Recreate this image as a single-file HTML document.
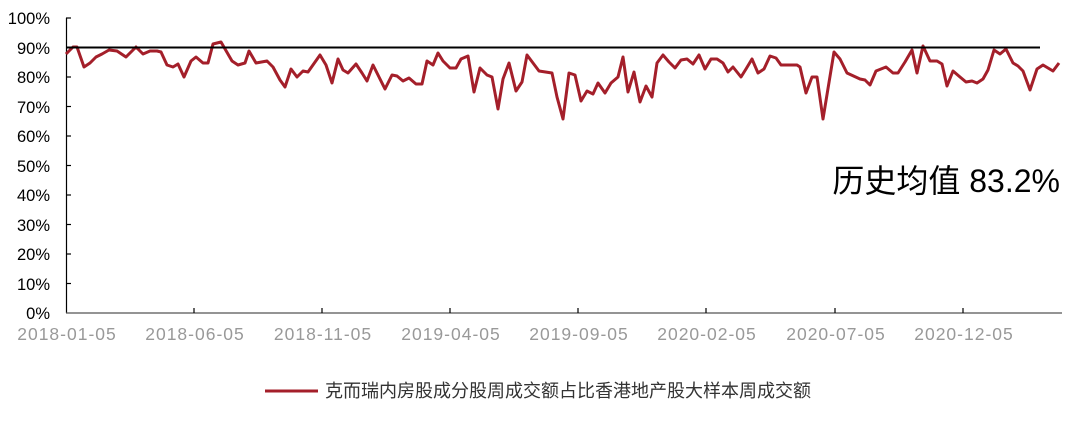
<!DOCTYPE html>
<html><head><meta charset="utf-8"><style>
body{margin:0;background:#fff;width:1080px;height:419px;overflow:hidden}
svg text{font-family:"Liberation Sans","Noto Sans CJK SC",sans-serif}
</style></head><body>
<svg width="1080" height="419" xmlns="http://www.w3.org/2000/svg">
<g font-size="16.5" fill="#000" text-anchor="end">
<text x="50" y="24">100%</text><text x="50" y="54">90%</text><text x="50" y="83">80%</text><text x="50" y="113">70%</text><text x="50" y="142">60%</text><text x="50" y="172">50%</text><text x="50" y="201">40%</text><text x="50" y="231">30%</text><text x="50" y="260">20%</text><text x="50" y="290">10%</text><text x="50" y="319">0%</text>
</g>
<g stroke="#000" stroke-width="1.2">
<line x1="66.5" y1="18" x2="66.5" y2="313"/>
<line x1="66" y1="313" x2="1062" y2="313" stroke="#555"/>
<line x1="66" y1="18" x2="71" y2="18"/><line x1="66" y1="47.5" x2="71" y2="47.5"/><line x1="66" y1="77" x2="71" y2="77"/><line x1="66" y1="106.5" x2="71" y2="106.5"/><line x1="66" y1="136" x2="71" y2="136"/><line x1="66" y1="165.5" x2="71" y2="165.5"/><line x1="66" y1="195" x2="71" y2="195"/><line x1="66" y1="224.5" x2="71" y2="224.5"/><line x1="66" y1="254" x2="71" y2="254"/><line x1="66" y1="283.5" x2="71" y2="283.5"/>
<line x1="194" y1="308" x2="194" y2="313"/><line x1="322" y1="308" x2="322" y2="313"/><line x1="450" y1="308" x2="450" y2="313"/><line x1="578" y1="308" x2="578" y2="313"/><line x1="706" y1="308" x2="706" y2="313"/><line x1="835" y1="308" x2="835" y2="313"/><line x1="963" y1="308" x2="963" y2="313"/>
</g>
<g font-size="17.5" fill="#999" text-anchor="middle" letter-spacing="1">
<text x="67" y="340">2018-01-05</text><text x="195" y="340">2018-06-05</text><text x="323" y="340">2018-11-05</text><text x="451" y="340">2019-04-05</text><text x="579" y="340">2019-09-05</text><text x="707" y="340">2020-02-05</text><text x="836" y="340">2020-07-05</text><text x="964" y="340">2020-12-05</text>
</g>
<polyline fill="none" stroke="#a41f2a" stroke-width="3" stroke-linejoin="round" points="66,54 73,47 77,47 84,67 90,63 96,57 102,54 109,50 117,51 126,57 136,47 143,54 150,51 157,51 161,52 167,65 173,67 178,64 184,77 191,61 196,57 203,63 208,63 213,44 221,42 232,61 238,65 245,63 249,51 256,63 267,61 273,67 280,80 285,87 291,69 297,77 303,71 308,72 320,55 326,65 332,83 338,59 343,70 348,73 356,64 362,73 367,81 373,65 379,77 385,89 392,75 397,76 403,81 409,78 416,84 422,84 427,61 433,65 438,53 443,61 450,68 456,68 461,59 468,56 474,92 480,68 487,75 492,77 498,109 503,79 509,63 516,91 522,82 527,55 533,63 539,71 552,73 557,97 563,119 569,73 575,75 581,101 587,91 593,94 598,83 605,93 611,83 618,77 623,57 628,92 634,72 640,102 646,86 652,97 657,63 663,55 669,62 675,68 681,60 687,59 693,64 699,55 705,69 711,59 717,59 723,63 728,72 733,67 741,77 746,69 752,59 758,73 764,69 770,56 776,58 781,65 797,65 800,67 806,93 812,77 817,77 823,119 834,52 840,59 847,73 860,79 865,80 870,85 876,71 886,67 893,73 898,73 905,62 912,50 917,73 923,46 930,61 937,61 942,64 947,86 953,71 960,77 966,82 972,81 977,83 983,79 988,70 994,50 1000,54 1006,49 1013,63 1018,66 1023,71 1030,90 1037,69 1043,65 1053,71 1059,63"/>
<line x1="66" y1="47.5" x2="1040" y2="47.5" stroke="#000" stroke-width="2"/>
<text x="1060" y="192" font-size="32" text-anchor="end" fill="#000">历史均值 83.2%</text>
<line x1="265" y1="391" x2="318" y2="391" stroke="#a41f2a" stroke-width="3"/>
<text x="325" y="397" font-size="18" fill="#333">克而瑞内房股成分股周成交额占比香港地产股大样本周成交额</text>
</svg>
</body></html>
